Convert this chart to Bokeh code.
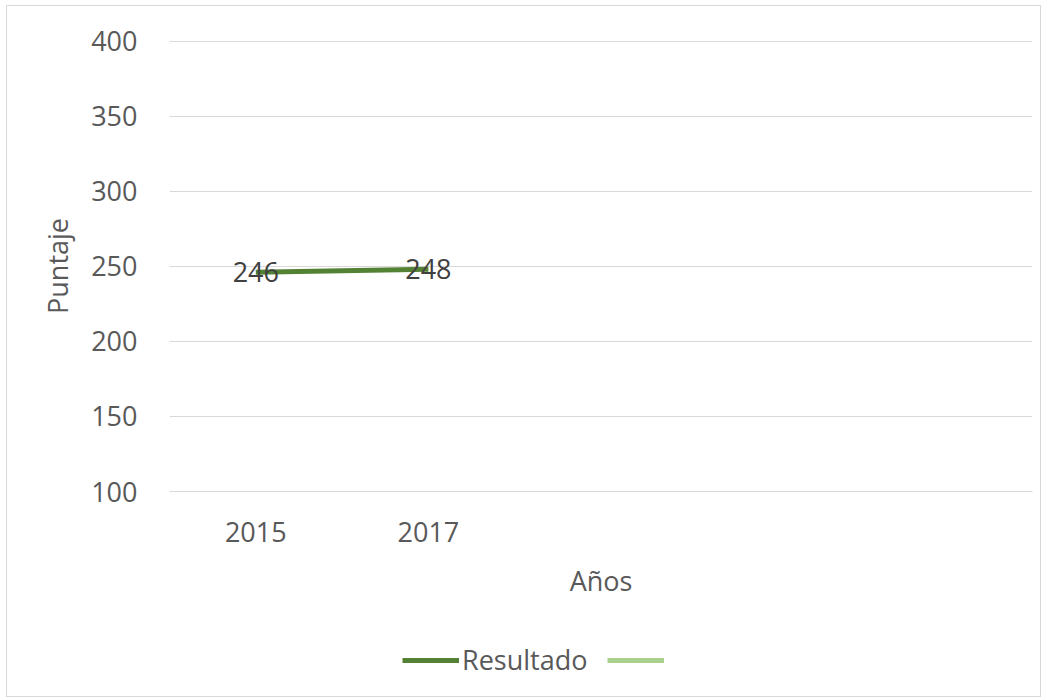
from bokeh.plotting import figure
from bokeh.models import FactorRange, Legend, LegendItem, ColumnDataSource, Range1d, FixedTicker
from bokeh.layouts import column
from bokeh.core.properties import value
from bokeh.embed import file_html
from bokeh.resources import INLINE

categories = ["2015", "2017", " ", "  ", "   "]
years = ["2015", "2017"]
resultado = [246, 248]
serie2 = [float("nan"), float("nan")]
series_names = ["Resultado", " "]
series_colors = ["#548235", "#A9D18E"]
y_ticks = [100, 150, 200, 250, 300, 350, 400]

FONT = "Open Sans"
GRAY = "#595959"
FS = "27px"

p = figure(width=1033, height=615, output_backend="svg", toolbar_location=None,
           x_range=FactorRange(*categories), y_range=Range1d(100, 400.4),
           min_border_left=162, min_border_right=8, min_border_top=34, min_border_bottom=130)
p.outline_line_color = None
p.background_fill_color = "white"
p.border_fill_color = "white"

p.xgrid.grid_line_color = None
p.ygrid.grid_line_color = "#D9D9D9"
p.ygrid.grid_line_width = 1
p.yaxis.ticker = FixedTicker(ticks=y_ticks)

for ax in (p.xaxis[0], p.yaxis[0]):
    ax.major_tick_line_color = None
    ax.minor_tick_line_color = None
    ax.major_label_text_font = FONT
    ax.major_label_text_font_size = FS
    ax.major_label_text_color = GRAY
    ax.axis_label_text_font = FONT
    ax.axis_label_text_font_size = FS
    ax.axis_label_text_color = GRAY
    ax.axis_label_text_font_style = "normal"

p.yaxis.axis_line_color = None
p.xaxis.axis_line_color = "#D9D9D9"
p.yaxis.major_label_standoff = 26
p.xaxis.major_label_standoff = 15
p.xaxis.axis_label = "Años"
p.xaxis.axis_label_standoff = 9
p.yaxis.axis_label = "Puntaje"
p.yaxis.axis_label_standoff = 12

src = ColumnDataSource(dict(x=years, y=resultado, t=[str(v) for v in resultado]))
p.line("x", "y", source=src, line_color=series_colors[0], line_width=5)
p.text("x", "y", text="t", source=src, text_align="center", text_baseline="middle",
       text_font=value(FONT), text_font_size=FS, text_color="#404040")

# legend strip (its own small plot; the series lie outside its visible range)
p2 = figure(width=1033, height=75, output_backend="svg", toolbar_location=None,
            x_range=FactorRange(*categories), y_range=Range1d(0, 1),
            min_border_left=0, min_border_right=0, min_border_top=0, min_border_bottom=0)
p2.axis.visible = False
p2.grid.visible = False
p2.outline_line_color = None
p2.border_fill_color = "white"
items = []
for name, col, ys in zip(series_names, series_colors, [resultado, serie2]):
    r = p2.line(x=years, y=ys, line_color=col, line_width=5)
    items.append(LegendItem(label=name, renderers=[r]))

legend = Legend(items=items, location=(233, 18), orientation="horizontal",
                glyph_width=57, glyph_height=30, label_height=30, label_standoff=3, spacing=20,
                padding=0, margin=0, border_line_color=None, background_fill_alpha=0,
                label_text_font=FONT, label_text_font_size=FS, label_text_color=GRAY)
p2.add_layout(legend, "center")

layout = column(p, p2, spacing=0,
                styles={"border": "1px solid #D9D9D9", "position": "relative", "left": "6px", "top": "5px"})

open("out.html", "w").write(file_html(layout, INLINE))
